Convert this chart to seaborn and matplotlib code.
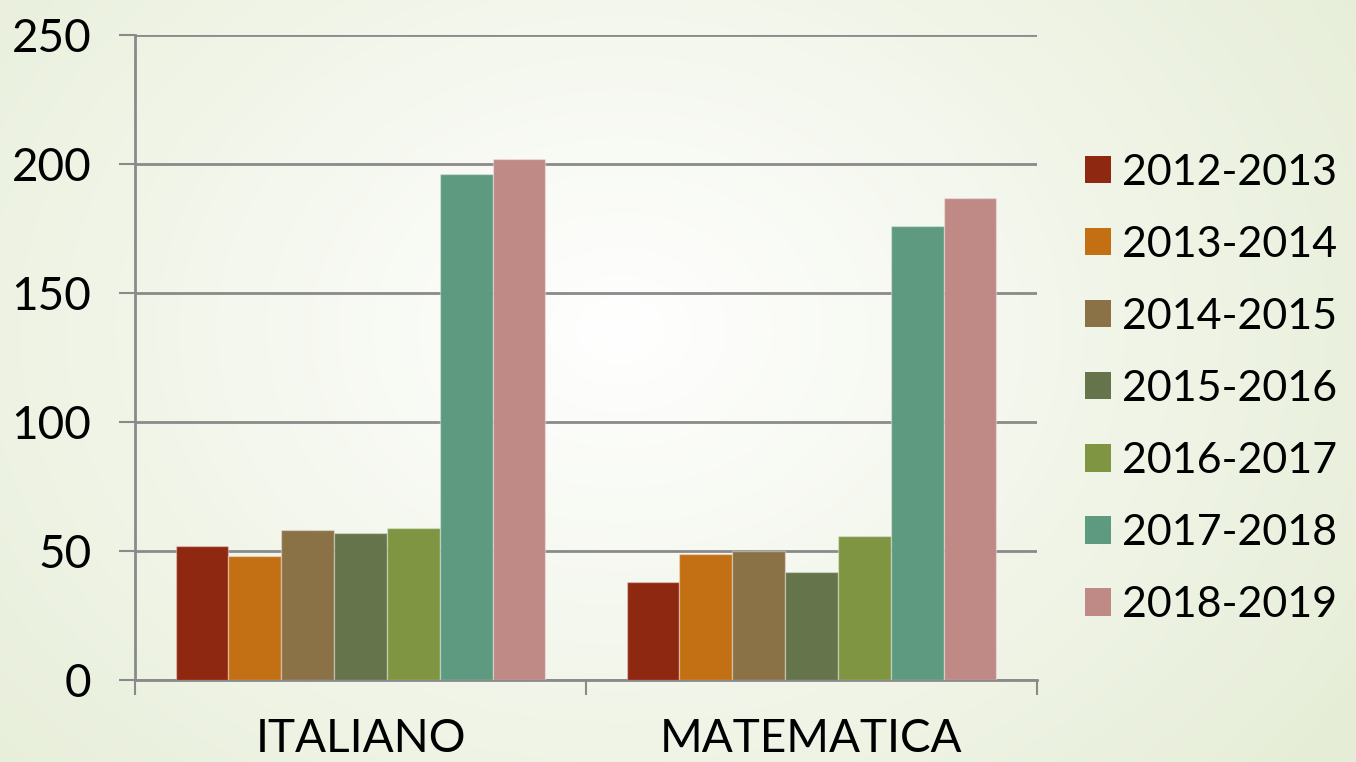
import numpy as np
import pandas as pd
import matplotlib
matplotlib.use("Agg")
import matplotlib.pyplot as plt
import seaborn as sns
from matplotlib.patches import Patch

# data
materie = ["ITALIANO", "MATEMATICA"]
anni = ["2012-2013", "2013-2014", "2014-2015", "2015-2016",
        "2016-2017", "2017-2018", "2018-2019"]
italiano = [52, 48, 58, 57, 59, 196, 202]
matematica = [38, 49, 50, 42, 56, 176, 187]
colori = ["#8f2810", "#c36f14", "#8b7246", "#65744a",
          "#7f9542", "#5e9a80", "#bf8985"]
y_ticks = [0, 50, 100, 150, 200, 250]

df = pd.DataFrame({
    "materia": [materie[0]] * len(anni) + [materie[1]] * len(anni),
    "anno": anni + anni,
    "valore": italiano + matematica,
})

sns.set_theme(style="white")
plt.rcParams["font.family"] = ["Lato", "DejaVu Sans"]
plt.rcParams["text.color"] = "black"

fig = plt.figure(figsize=(13.56, 7.62), dpi=100)

# sfondo sfumato
bg = fig.add_axes([0, 0, 1, 1], zorder=-10)
yy, xx = np.mgrid[0:762, 0:1356]
r = np.sqrt(((xx - 620) / 900.0) ** 2 + ((yy - 330) / 700.0) ** 2)
r = np.clip(r, 0, 1)
c0 = np.array([1.0, 1.0, 1.0])
c1 = np.array([0.90, 0.93, 0.84])
img = c0[None, None, :] * (1 - r[..., None]) + c1[None, None, :] * r[..., None]
bg.imshow(img, aspect="auto")
bg.axis("off")

ax = fig.add_axes([135 / 1356, 1 - 680 / 762, (1037 - 135) / 1356, (680 - 35) / 762])
ax.patch.set_alpha(0)

sns.barplot(data=df, x="materia", y="valore", hue="anno", palette=colori,
            width=0.82, gap=0, ax=ax, legend=False, saturation=1,
            edgecolor=(1, 1, 1, 0.35), linewidth=1, zorder=3)

ax.set_ylim(0, 250)
ax.set_xlim(-0.5, 1.5)
ax.set_yticks(y_ticks)
ax.set_xlabel("")
ax.set_ylabel("")
ax.yaxis.grid(True, color="#8a8a8a", linewidth=2, zorder=0)
ax.set_axisbelow(True)
for s in ["top", "right"]:
    ax.spines[s].set_visible(False)
ax.spines["left"].set_color("#8a8a8a")
ax.spines["left"].set_linewidth(2)
ax.spines["bottom"].set_color("#8a8a8a")
ax.spines["bottom"].set_linewidth(2)

ax.tick_params(axis="y", length=11.5, width=1.5, color="#8a8a8a", pad=20,
               labelsize=33, labelcolor="black", left=True)
ax.set_xticks([-0.5, 0.5, 1.5], minor=True)
ax.tick_params(axis="x", which="minor", length=11, width=1.5, color="#8a8a8a",
               bottom=True)
ax.tick_params(axis="x", which="major", length=0, pad=27, labelsize=33,
               labelcolor="black")

handles = [Patch(facecolor=c, edgecolor="none") for c in colori]
fig.legend(handles, anni, loc="center left", bbox_to_anchor=(1085 / 1356, 1 - 389 / 762),
           frameon=False, fontsize=31, handlelength=0.6, handleheight=0.6,
           handletextpad=0.27, labelspacing=0.79, borderpad=0, borderaxespad=0,
           labelcolor="black")

fig.savefig("out.png", dpi=100)
